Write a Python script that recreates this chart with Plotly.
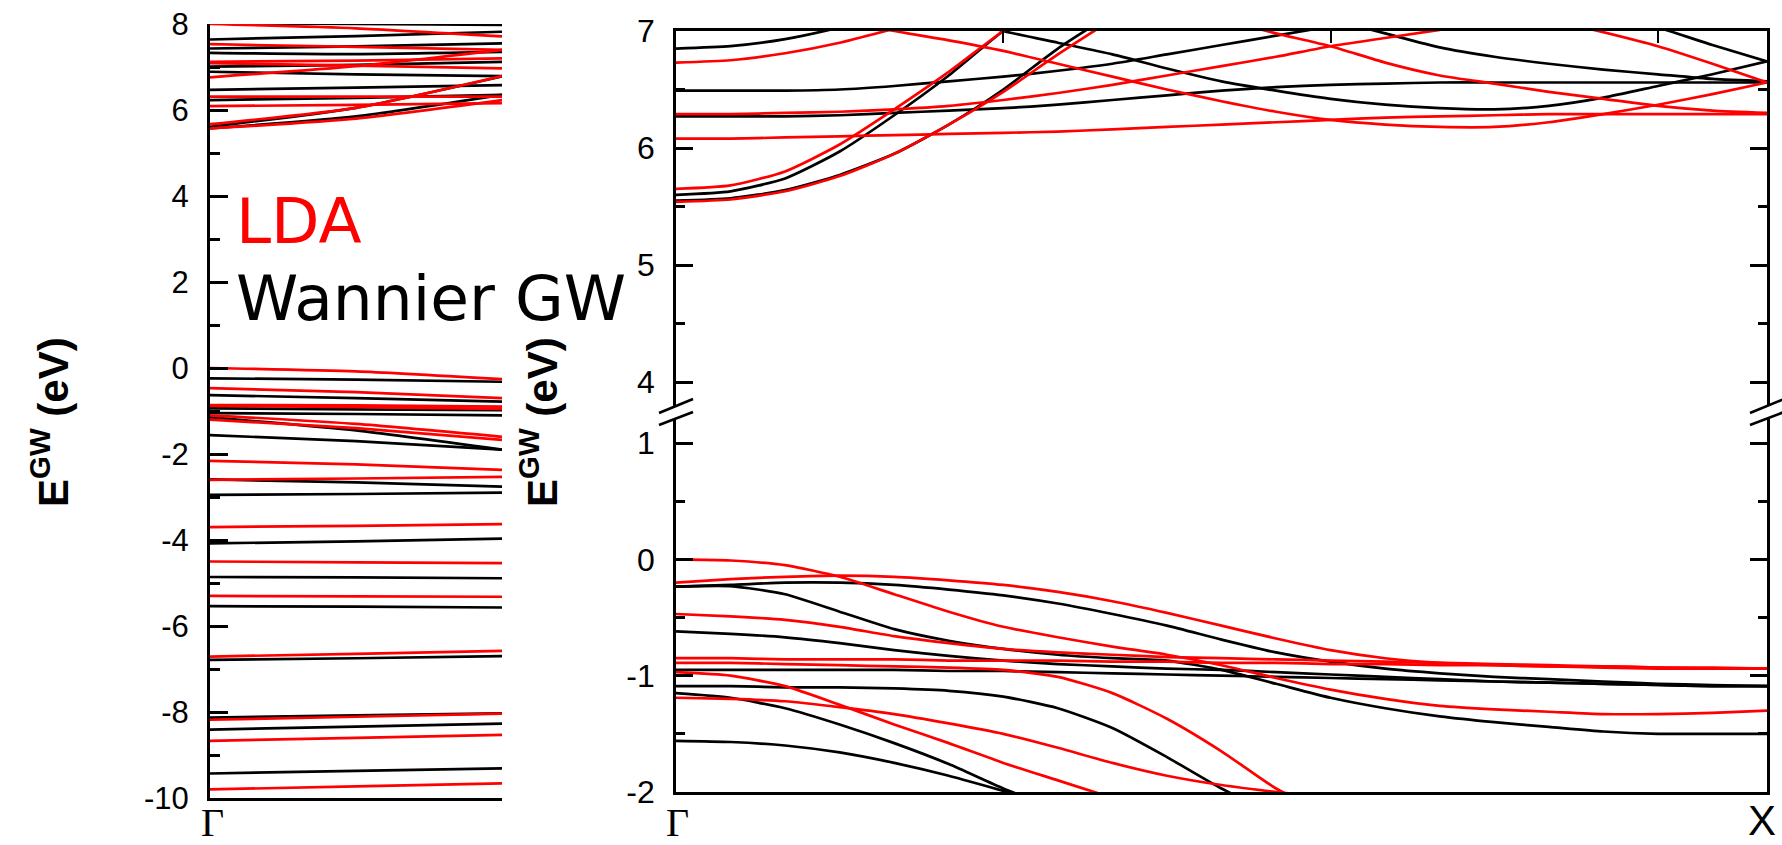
import plotly.graph_objects as go

# ---------------- data ----------------
# Left panel: k along Gamma->X (fraction), three sample points per band
K_LEFT = [0.0, 0.5, 1.0]

LDA_LEFT = [
    [8.00, 7.90, 7.71], [7.53, 7.47, 7.40], [7.12, 7.15, 7.20], [7.09, 7.03, 6.97],
    [6.76, 7.02, 7.40], [6.31, 6.31, 6.31], [6.09, 6.12, 6.16], [5.67, 6.05, 6.79],
    [5.57, 5.80, 6.23],
    [0.00, -0.08, -0.26], [-0.47, -0.56, -0.70], [-0.86, -0.87, -0.90], [-0.88, -0.91, -0.95],
    [-1.10, -1.30, -1.60], [-1.20, -1.40, -1.67], [-2.16, -2.24, -2.37], [-2.60, -2.57, -2.53],
    [-3.70, -3.67, -3.63], [-4.50, -4.52, -4.54], [-5.30, -5.31, -5.32], [-6.71, -6.65, -6.58],
    [-8.18, -8.11, -8.04], [-8.67, -8.60, -8.53], [-9.80, -9.73, -9.66],
]
GW_LEFT = [
    [8.02, 8.00, 7.98], [7.64, 7.72, 7.82], [7.43, 7.48, 7.55], [7.33, 7.30, 7.35],
    [7.01, 7.05, 7.12], [6.89, 6.83, 6.79], [6.47, 6.52, 6.58], [6.23, 6.28, 6.35],
    [5.61, 6.05, 6.78], [5.57, 5.85, 6.35],
    [-0.24, -0.27, -0.32], [-0.63, -0.70, -0.78], [-0.94, -0.96, -0.98], [-1.05, -1.07, -1.10],
    [-1.15, -1.45, -1.90], [-1.56, -1.70, -1.90], [-2.59, -2.66, -2.76], [-2.95, -2.93, -2.90],
    [-4.08, -4.03, -3.97], [-4.86, -4.87, -4.89], [-5.54, -5.55, -5.57], [-6.79, -6.75, -6.70],
    [-8.13, -8.08, -8.03], [-8.41, -8.34, -8.27], [-9.43, -9.37, -9.31],
]

# Right panel: k grid Gamma(0) -> X(1)
K_RIGHT = [0.0, 0.05, 0.1, 0.15, 0.2, 0.25, 0.3, 0.35, 0.4, 0.45, 0.5,
           0.55, 0.6, 0.65, 0.7, 0.75, 0.8, 0.85, 0.9, 0.95, 1.0]
N = None
GW_UPPER = [
    [6.85, 6.87, 6.93, 7.03, 7.15, N, N, N, N, N, N, N, N, N, N, N, N, N, N, N, N],
    [6.49, 6.49, 6.49, 6.50, 6.53, 6.57, 6.61, 6.66, 6.72, 6.80, 6.88, 6.96, 7.04, N, N, N, N, N, N, N, N],
    [6.27, 6.27, 6.27, 6.28, 6.30, 6.32, 6.34, 6.37, 6.41, 6.45, 6.49, 6.52, 6.54, 6.55, 6.56, 6.56, 6.56, 6.56, 6.56, 6.56, 6.56],
    [N, N, N, N, N, 7.15, 7.00, 6.90, 6.80, 6.68, 6.57, 6.49, 6.42, 6.37, 6.34, 6.33, 6.36, 6.43, 6.53, 6.63, 6.74],
    [5.60, 5.63, 5.74, 5.97, 6.28, 6.62, 7.00, 7.30, N, N, N, N, N, N, N, N, N, N, N, N, N],
    [5.55, 5.57, 5.64, 5.77, 5.95, 6.20, 6.50, 6.85, 7.15, N, N, N, N, N, N, N, N, N, N, N, N],
    [N, N, N, N, N, N, N, N, N, N, N, N, 7.10, 6.98, 6.86, 6.78, 6.72, 6.67, 6.63, 6.59, 6.57],
    [N, N, N, N, N, N, N, N, N, N, N, N, N, N, N, N, N, 7.15, 7.03, 6.88, 6.74],
]
LDA_UPPER = [
    [6.73, 6.75, 6.81, 6.90, 7.02, 7.15, N, N, N, N, N, N, N, N, N, N, N, N, N, N, N],
    [6.29, 6.29, 6.30, 6.31, 6.33, 6.36, 6.41, 6.47, 6.54, 6.62, 6.70, 6.78, 6.87, 6.94, 7.01, N, N, N, N, N, N],
    [6.08, 6.08, 6.09, 6.10, 6.11, 6.12, 6.13, 6.14, 6.16, 6.18, 6.20, 6.22, 6.24, 6.26, 6.27, 6.28, 6.29, 6.29, 6.29, 6.29, 6.29],
    [N, N, N, 7.10, 7.00, 6.92, 6.83, 6.72, 6.61, 6.50, 6.40, 6.31, 6.24, 6.20, 6.18, 6.18, 6.22, 6.29, 6.37, 6.46, 6.56],
    [N, N, N, N, N, N, N, N, N, N, 7.10, 6.98, 6.87, 6.73, 6.62, 6.55, 6.48, 6.42, 6.36, 6.32, 6.30],
    [5.65, 5.68, 5.80, 6.03, 6.33, 6.65, 7.00, 7.30, N, N, N, N, N, N, N, N, N, N, N, N, N],
    [5.54, 5.56, 5.63, 5.76, 5.95, 6.20, 6.48, 6.80, 7.10, N, N, N, N, N, N, N, N, N, N, N, N],
    [N, N, N, N, N, N, N, N, N, N, N, N, N, N, N, N, 7.10, 6.99, 6.87, 6.72, 6.56],
]
GW_LOWER = [
    [-0.235, -0.22, -0.20, -0.20, -0.22, -0.26, -0.31, -0.38, -0.47, -0.57, -0.69, -0.80, -0.88, -0.94, -0.98, -1.01, -1.03, -1.05, -1.07, -1.08, -1.09],
    [-0.235, -0.23, -0.30, -0.45, -0.60, -0.70, -0.77, -0.82, -0.85, -0.87, -0.95, -1.07, -1.19, -1.28, -1.35, -1.40, -1.44, -1.48, -1.50, -1.50, -1.50],
    [-0.62, -0.64, -0.67, -0.72, -0.78, -0.83, -0.87, -0.90, -0.92, -0.94, -0.95, -0.97, -0.99, -1.01, -1.03, -1.05, -1.06, -1.07, -1.08, -1.09, -1.09],
    [-0.95, -0.95, -0.95, -0.95, -0.95, -0.96, -0.96, -0.97, -0.98, -0.99, -1.00, -1.01, -1.02, -1.03, -1.04, -1.05, -1.06, -1.07, -1.08, -1.09, -1.09],
    [-1.09, -1.09, -1.10, -1.10, -1.11, -1.13, -1.18, -1.28, -1.45, -1.70, -1.97, -2.20, N, N, N, N, N, N, N, N, N],
    [-1.15, -1.19, -1.28, -1.42, -1.58, -1.76, -1.97, -2.15, N, N, N, N, N, N, N, N, N, N, N, N, N],
    [-1.56, -1.57, -1.60, -1.66, -1.75, -1.86, -1.99, -2.12, N, N, N, N, N, N, N, N, N, N, N, N, N],
]
LDA_LOWER = [
    [0.00, -0.01, -0.05, -0.15, -0.30, -0.45, -0.58, -0.67, -0.75, -0.82, -0.91, -1.02, -1.12, -1.20, -1.26, -1.29, -1.31, -1.33, -1.33, -1.32, -1.30],
    [-0.20, -0.17, -0.15, -0.14, -0.15, -0.18, -0.22, -0.28, -0.36, -0.46, -0.57, -0.68, -0.78, -0.85, -0.89, -0.91, -0.92, -0.93, -0.94, -0.94, -0.94],
    [-0.47, -0.49, -0.52, -0.58, -0.66, -0.72, -0.77, -0.80, -0.82, -0.84, -0.85, -0.86, -0.87, -0.88, -0.89, -0.90, -0.91, -0.92, -0.93, -0.94, -0.94],
    [-0.85, -0.85, -0.86, -0.86, -0.86, -0.87, -0.87, -0.87, -0.88, -0.88, -0.89, -0.89, -0.90, -0.90, -0.91, -0.91, -0.92, -0.92, -0.93, -0.93, -0.94],
    [-0.89, -0.89, -0.90, -0.91, -0.92, -0.93, -0.95, -1.01, -1.15, -1.37, -1.65, -1.97, -2.20, N, N, N, N, N, N, N, N],
    [-0.97, -1.00, -1.09, -1.25, -1.42, -1.58, -1.75, -1.90, -2.05, N, N, N, N, N, N, N, N, N, N, N, N],
    [-1.19, -1.20, -1.22, -1.27, -1.33, -1.41, -1.50, -1.62, -1.75, -1.86, -1.94, -2.00, -2.05, N, N, N, N, N, N, N, N],
]

Y_TICKS_LEFT = [-10, -8, -6, -4, -2, 0, 2, 4, 6, 8]
Y_TICKS_UPPER = [4, 5, 6, 7]
Y_TICKS_LOWER = [-2, -1, 0, 1]
K_LABELS = ["Γ", "X"]

# ---------------- figure ----------------
W, H = 1782, 845
def px(x): return x / W
def py(y): return 1 - y / H

RED = "#ff0000"
BLACK = "#000000"
LW = 2.7

fig = go.Figure()

def add_bands(bands, k, color, xa, ya):
    for b in bands:
        fig.add_trace(go.Scatter(x=k, y=b, mode="lines", xaxis=xa, yaxis=ya,
                                 line=dict(color=color, width=LW, shape="spline", smoothing=0.6),
                                 connectgaps=False, showlegend=False, hoverinfo="skip"))

add_bands(GW_LEFT, K_LEFT, BLACK, "x", "y")
add_bands(LDA_LEFT, K_LEFT, RED, "x", "y")
add_bands(GW_UPPER, K_RIGHT, BLACK, "x2", "y2")
add_bands(LDA_UPPER, K_RIGHT, RED, "x2", "y2")
add_bands(GW_LOWER, K_RIGHT, BLACK, "x3", "y3")
add_bands(LDA_LOWER, K_RIGHT, RED, "x3", "y3")

tickfont = dict(family="Liberation Sans, Arial", size=31, color="black")
def lab(v): return str(v)

xr = (676, 1767)
y_up_top, y_up_bot = 31, 406
y_lo_top, y_lo_bot = 418, 792
up_lo = 7 - (y_up_bot - y_up_top) / 117.0
lo_hi = 1 + (443 - y_lo_top) / 116.3

common = dict(showgrid=False, zeroline=False, automargin=False)

fig.update_layout(
    width=W, height=H, margin=dict(l=0, r=0, t=0, b=0, autoexpand=False),
    paper_bgcolor="white", plot_bgcolor="rgba(0,0,0,0)",
    xaxis=dict(domain=[px(210), px(502)], range=[0, 1], anchor="y",
               showline=True, linewidth=3, linecolor="black", ticks="",
               showticklabels=False, **common),
    yaxis=dict(domain=[py(798), py(24)], range=[-10, 8], anchor="x",
               showline=True, linewidth=3, linecolor="black",
               ticks="inside", ticklen=18, tickwidth=3, tickcolor="black",
               tickvals=Y_TICKS_LEFT, ticktext=[lab(v) for v in Y_TICKS_LEFT],
               tickfont=tickfont, ticklabelstandoff=12,
               minor=dict(ticks="inside", ticklen=10, tickwidth=3, tickcolor="black", dtick=1, showgrid=False),
               **common),
    xaxis2=dict(domain=[px(xr[0]), px(xr[1])], range=[0, 1], anchor="y2", side="top",
                showline=True, linewidth=2.6, linecolor="black",
                ticks="inside", ticklen=12, tickwidth=2, tickcolor="black",
                tickvals=[0.3, 0.6, 0.9], showticklabels=False, **common),
    yaxis2=dict(domain=[py(y_up_bot), py(y_up_top)], range=[up_lo, 7], anchor="x2",
                showline=True, linewidth=2.6, linecolor="black", mirror="ticks",
                ticks="inside", ticklen=17, tickwidth=2.6, tickcolor="black",
                tickvals=Y_TICKS_UPPER, ticktext=[lab(v) for v in Y_TICKS_UPPER],
                tickfont=dict(family="Liberation Sans, Arial", size=32, color="black"),
                ticklabelstandoff=12,
                minor=dict(ticks="inside", ticklen=9, tickwidth=2.6, tickcolor="black", dtick=0.5, showgrid=False),
                **common),
    xaxis3=dict(domain=[px(xr[0]), px(xr[1])], range=[0, 1], anchor="y3", side="bottom",
                showline=True, linewidth=2.6, linecolor="black", ticks="",
                showticklabels=False, **common),
    yaxis3=dict(domain=[py(y_lo_bot), py(y_lo_top)], range=[-2, lo_hi], anchor="x3",
                showline=True, linewidth=2.6, linecolor="black", mirror="ticks",
                ticks="inside", ticklen=17, tickwidth=2.6, tickcolor="black",
                tickvals=Y_TICKS_LOWER, ticktext=[lab(v) for v in Y_TICKS_LOWER],
                tickfont=dict(family="Liberation Sans, Arial", size=32, color="black"),
                ticklabelstandoff=12,
                minor=dict(ticks="inside", ticklen=9, tickwidth=2.6, tickcolor="black", dtick=0.5, showgrid=False),
                **common),
)

ann = []
title = "<b>E<sup>GW</sup> (eV)</b>"
for cx in (50, 539):
    ann.append(dict(x=px(cx), y=py(422), xref="paper", yref="paper", text=title,
                    textangle=-90, showarrow=False, xanchor="center", yanchor="middle",
                    font=dict(family="Liberation Sans, Arial", size=42, color="black")))
ann.append(dict(x=px(234), y=py(222), xref="paper", yref="paper", text="LDA",
                showarrow=False, xanchor="left", yanchor="middle",
                font=dict(family="DejaVu Sans", size=63, color=RED)))
ann.append(dict(x=px(234), y=py(298), xref="paper", yref="paper", text="Wannier GW",
                showarrow=False, xanchor="left", yanchor="middle",
                font=dict(family="DejaVu Sans", size=63, color="black")))
serif = dict(family="Liberation Serif, Times New Roman", size=40, color="black")
ann.append(dict(x=px(212), y=py(822), xref="paper", yref="paper", text=K_LABELS[0],
                showarrow=False, xanchor="center", yanchor="middle", font=serif, borderpad=0))
ann.append(dict(x=px(677), y=py(822), xref="paper", yref="paper", text=K_LABELS[0],
                showarrow=False, xanchor="center", yanchor="middle", font=serif, borderpad=0))
ann.append(dict(x=px(1762), y=py(820), xref="paper", yref="paper", text=K_LABELS[1],
                showarrow=False, xanchor="center", yanchor="middle", borderpad=0,
                font=dict(family="Liberation Sans, Arial", size=42, color="black")))

shapes = []
for ax in (676, 1767):
    for (y0, y1) in ((413, 399), (425, 412)):
        shapes.append(dict(type="line", xref="paper", yref="paper",
                           x0=px(ax - 17), y0=py(y0), x1=px(ax + 17), y1=py(y1),
                           line=dict(color="black", width=2.6)))

fig.update_layout(annotations=ann, shapes=shapes)
fig.write_html("out.html", config={"displayModeBar": False},
               post_script="document.body.style.margin='0px';document.body.style.overflow='hidden';")
